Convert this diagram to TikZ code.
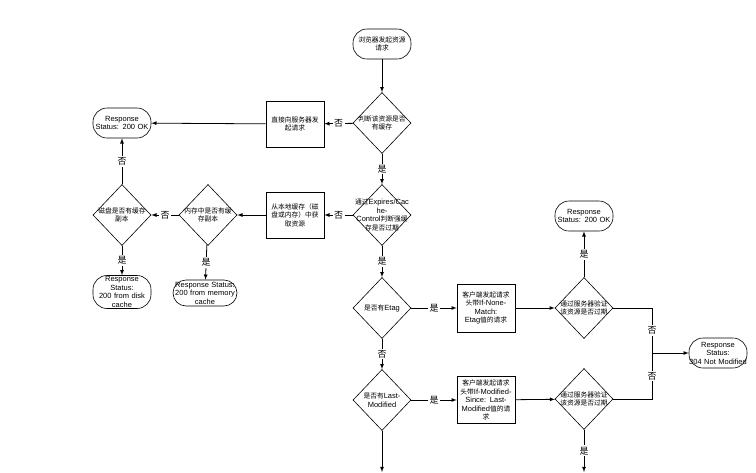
\documentclass[tikz,border=0pt]{standalone}
\usepackage{fontspec}
\setmainfont{Liberation Sans}
\newfontfamily\cjk{Noto Sans CJK SC}[Scale=0.9]
\newcommand{\zh}[1]{{\cjk #1}}
\usetikzlibrary{shapes,arrows,positioning}
\tikzstyle{term} = [rectangle, draw, line width=0.6pt, rounded corners=14pt, minimum width=58pt, minimum height=30pt, text width=54pt, inner sep=1pt, align=center]
\tikzstyle{decision} = [diamond, draw, line width=0.6pt, minimum width=58pt, minimum height=61pt, inner sep=0pt]
\tikzstyle{dtext} = [align=center, text width=60pt]
\tikzstyle{block} = [rectangle, draw, line width=0.6pt, minimum width=58pt, minimum height=46pt, text width=54pt, inner sep=1pt, align=center]
\tikzstyle{line} = [draw, line width=0.8pt]
\tikzstyle{arrow} = [draw, line width=0.8pt, -latex]
\tikzstyle{yn} = [fill=white, inner sep=1.5pt, font=\cjk]

\begin{document}
\begin{tikzpicture}[x=1pt, y=-1pt, font=\fontsize{7.5}{8.5}\selectfont]
			\useasboundingbox (0,0) rectangle (756,472);

			\node [term] (start) at (382,44) {\zh{浏览器发起资源}\\\zh{请求}};
			\node [decision, label={[dtext]center:{\zh{判断该资源是否}\\\zh{有缓存}}}] (cached) at (382,123) {};
			\node [block] (direct) at (295,124) {\zh{直接向服务器发}\\\zh{起请求}};
			\node [term] (ok) at (122,123) {Response\\Status: 200 OK};
			\node [decision, label={[dtext]center:{\zh{通过}Expires/Cac\\he-\\Control\zh{判断强缓}\\\zh{存是否过期}}}] (expired) at (382,215) {};
			\node [block] (local) at (295,215) {\zh{从本地缓存（磁}\\\zh{盘或内存）中获}\\\zh{取资源}};
			\node [decision, label={[dtext]center:{\zh{内存中是否有缓}\\\zh{存副本}}}] (memory) at (208,215) {};
			\node [decision, label={[dtext]center:{\zh{磁盘是否有缓存}\\\zh{副本}}}] (disk) at (122,215) {};
			\node [term, minimum height=33pt] (diskok) at (122,292) {Response\\Status:\\200 from disk\\cache};
			\node [term, minimum width=64pt, minimum height=26pt, text width=62pt, rounded corners=13pt] (memok) at (205,293) {Response Status:\\200 from memory\\cache};

			\node [decision, label={[dtext]center:{\zh{是否有}Etag}}] (etag) at (382,308) {};
			\node [block, minimum height=48pt] (nonematch) at (486,308) {\zh{客户端发起请求}\\\zh{头带}If-None-\\Match:\\Etag\zh{值的请求}};
			\node [decision, label={[dtext]center:{\zh{通过服务器验证}\\\zh{该资源是否过期}}}] (verify1) at (584,308) {};
			\node [term] (ok2) at (584,216) {Response\\Status: 200 OK};
			\node [term, text width=58pt, inner sep=0pt] (notmod) at (718,353) {Response\\Status:\\304 Not Modified};
			\node [decision, label={[dtext]center:{\zh{是否有}Last-\\Modified}}] (lastmod) at (382,400) {};
			\node [block, minimum height=47pt] (modsince) at (486,400) {\zh{客户端发起请求}\\\zh{头带}If-Modified-\\Since: Last-\\Modified\zh{值的请}\\\zh{求}};
			\node [decision, label={[dtext]center:{\zh{通过服务器验证}\\\zh{该资源是否过期}}}] (verify2) at (584,399) {};
			\coordinate (join) at (652,353);
			\coordinate (out1) at (382,472);
			\coordinate (out2) at (584,472);

			\path [arrow] (start) -- (cached);
			\path [arrow] (cached) -- node[yn] {否} (direct);
			\path [arrow] (direct) -- (ok);
			\path [arrow] (cached) -- node[yn] {是} (expired);
			\path [arrow] (expired) -- node[yn] {否} (local);
			\path [arrow] (local) -- (memory);
			\path [arrow] (memory) -- node[yn] {否} (disk);
			\path [arrow] (memory) -- node[yn] {是} (memok);
			\path [arrow] (disk) -- node[yn] {否} (ok);
			\path [arrow] (disk) -- node[yn] {是} (diskok);
			\path [arrow] (expired) -- node[yn] {是} (etag);
			\path [arrow] (etag) -- node[yn] {是} (nonematch);
			\path [arrow] (nonematch) -- (verify1);
			\path [arrow] (verify1) -- node[yn] {是} (ok2);
			\path [line] (verify1) -| node[yn, pos=0.75] {否} (join);
			\path [arrow] (join) -- (notmod);
			\path [arrow] (etag) -- node[yn] {否} (lastmod);
			\path [arrow] (lastmod) -- node[yn] {是} (modsince);
			\path [arrow] (modsince) -- (verify2);
			\path [line] (verify2) -| node[yn, pos=0.75] {否} (join);
			\path [arrow] (verify2) -- node[yn] {是} (out2);
			\path [arrow] (lastmod) -- (out1);
		\end{tikzpicture}
\end{document}
